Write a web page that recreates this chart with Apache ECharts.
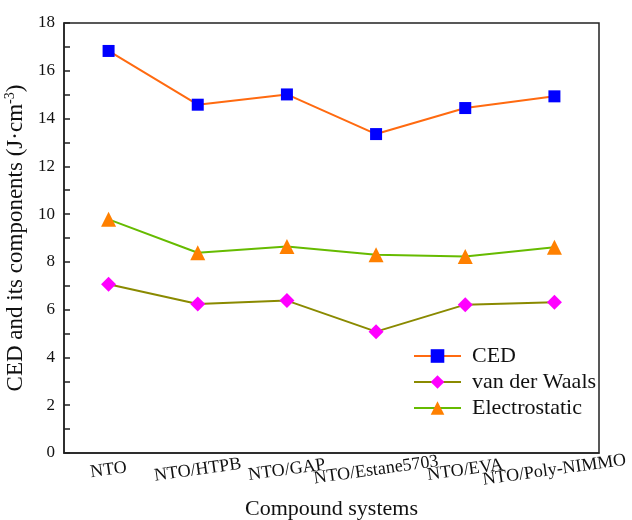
<!DOCTYPE html>
<html>
<head>
<meta charset="utf-8">
<title>CED</title>
<script src="https://cdn.jsdelivr.net/npm/echarts@6/dist/echarts.min.js"></script>
<style>
  html, body { margin: 0; padding: 0; background: #fff; }
  #main { width: 632px; height: 520px; }
</style>
</head>
<body>
<div id="main"></div>
<script>
  var categories = ['NTO', 'NTO/HTPB', 'NTO/GAP', 'NTO/Estane5703', 'NTO/EVA', 'NTO/Poly-NIMMO'];
  var ced = [16.83, 14.58, 15.01, 13.35, 14.44, 14.93];
  var vdw = [7.06, 6.24, 6.38, 5.08, 6.21, 6.31];
  var elec = [9.78, 8.38, 8.64, 8.30, 8.23, 8.61];

  var serif = 'Liberation Serif';

  var chart = echarts.init(document.getElementById('main'));

  function line(name, data, lineColor, symColor, symbol, size) {
    return {
      name: name,
      type: 'line',
      data: data,
      symbol: symbol,
      symbolSize: size,
      lineStyle: { color: lineColor, width: 2 },
      itemStyle: { color: symColor },
      emphasis: { disabled: true },
      z: 3
    };
  }

  chart.setOption({
    animation: false,
    textStyle: { fontFamily: serif },
    grid: {
      left: 64, right: 33, top: 23, bottom: 67,
      outerBoundsMode: 'none',
      show: true, borderColor: '#222', borderWidth: 1.5, backgroundColor: 'transparent'
    },
    legend: {
      orient: 'vertical',
      left: 408, top: 340,
      itemWidth: 47, itemHeight: 17, itemGap: 4,
      textStyle: { fontFamily: serif, fontSize: 22, color: '#111', padding: [0, 0, 0, 6] },
      data: ['CED', 'van der Waals', 'Electrostatic']
    },
    xAxis: {
      type: 'category',
      data: categories,
      name: 'Compound systems',
      nameLocation: 'middle',
      nameGap: 45,
      nameTextStyle: { fontFamily: serif, fontSize: 22, color: '#111' },
      axisLine: { lineStyle: { color: '#222', width: 1.5 } },
      axisTick: { inside: true, alignWithLabel: true, length: 6, lineStyle: { color: '#222', width: 1.5 } },
      axisLabel: {
        rotate: 8, align: 'center', verticalAlign: 'middle', margin: 17,
        fontFamily: serif, fontSize: 18, color: '#111', interval: 0
      }
    },
    yAxis: {
      type: 'value',
      min: 0, max: 18, interval: 2,
      name: '{a|CED and its components (J·cm}{s|-3}{a|)}',
      nameLocation: 'middle',
      nameGap: 31,
      nameTextStyle: {
        rich: {
          a: { fontFamily: serif, fontSize: 23, color: '#111' },
          s: { fontFamily: serif, fontSize: 14, color: '#111', verticalAlign: 'top', padding: [0, 0, 10, 0] }
        }
      },
      splitLine: { show: false },
      axisLine: { show: true, lineStyle: { color: '#222', width: 1.5 } },
      axisTick: { show: true, inside: true, length: 6, lineStyle: { color: '#222', width: 1.5 } },
      minorTick: { show: true, splitNumber: 2, length: 6, lineStyle: { color: '#222', width: 1.5 } },
      axisLabel: { fontFamily: serif, fontSize: 17, color: '#111', margin: 9 }
    },
    series: [
      line('CED', ced, '#ff6a10', '#0000ff', 'rect', 12),
      line('van der Waals', vdw, '#8a8a00', '#ff00ff', 'diamond', 15),
      line('Electrostatic', elec, '#66bb00', '#ff8000', 'triangle', 15)
    ]
  });
</script>
</body>
</html>
